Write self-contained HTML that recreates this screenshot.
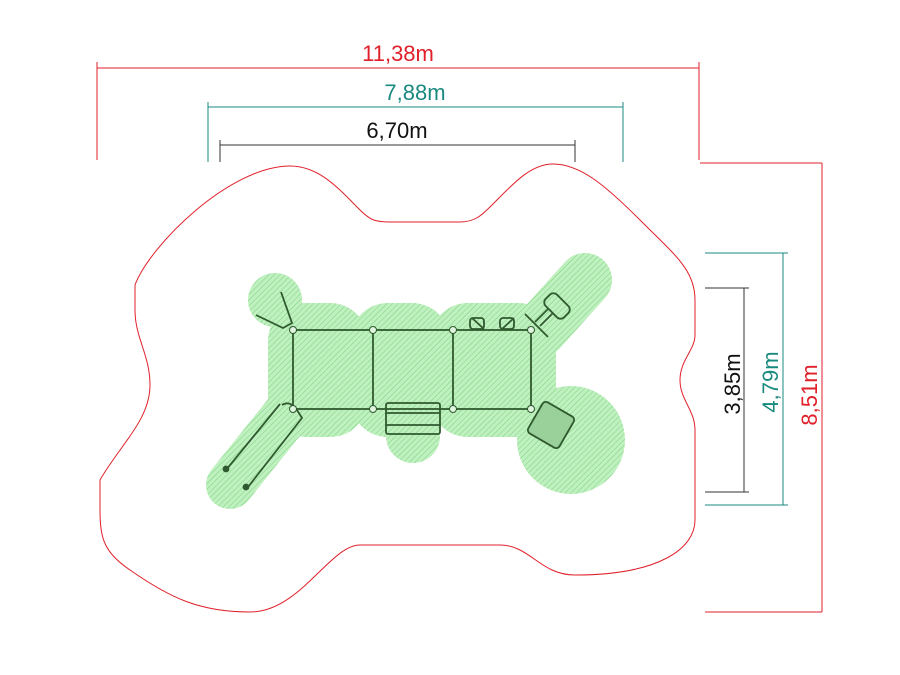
<!DOCTYPE html><html><head><style>body{margin:0;background:#fff}svg{display:block}</style></head><body>
<svg width="900" height="675" viewBox="0 0 900 675" xmlns="http://www.w3.org/2000/svg" font-family="Liberation Sans, sans-serif">
<defs><pattern id="h" width="4" height="4" patternUnits="userSpaceOnUse" patternTransform="rotate(45)"><rect width="4" height="4" fill="#bff0bf"/><line x1="0" y1="0" x2="0" y2="4" stroke="#7fd07f" stroke-width="1"/></pattern></defs>
<g stroke="#e0202a" stroke-width="1" fill="none">
<line x1="97" y1="68" x2="699" y2="68"/><line x1="97" y1="62" x2="97" y2="160"/><line x1="699" y1="62" x2="699" y2="160"/>
<line x1="700" y1="163" x2="822" y2="163"/><line x1="705" y1="612" x2="822" y2="612"/><line x1="822" y1="163" x2="822" y2="612"/>
<path d="M290,166 C320,166 340,190 360,210 C370,220 375,222 390,222 L460,222 C475,222 482,215 492,205 C512,185 530,164 553,164 C580,164 605,185 640,220 C675,255 695,270 695,300 L695,335 C695,350 680,360 680,380 C680,400 695,410 695,430 L695,520 C695,548 660,575 575,575 C540,575 530,545 500,545 L360,545 C330,545 300,612 250,612 C200,612 170,598 130,570 C105,553 100,540 100,510 L100,480 C120,445 150,420 150,385 C150,355 135,338 135,310 L135,285 C150,245 230,166 290,166 Z"/>
</g>
<g stroke="#1a8a80" stroke-width="1"><line x1="208" y1="107" x2="623" y2="107"/><line x1="208" y1="102" x2="208" y2="162"/><line x1="623" y1="102" x2="623" y2="162"/>
<line x1="783" y1="253" x2="783" y2="505"/><line x1="705" y1="253" x2="788" y2="253"/><line x1="705" y1="505" x2="788" y2="505"/></g>
<g stroke="#333" stroke-width="1"><line x1="220" y1="145" x2="575" y2="145"/><line x1="220" y1="140" x2="220" y2="162"/><line x1="575" y1="140" x2="575" y2="162"/>
<line x1="744" y1="288" x2="744" y2="492"/><line x1="705" y1="288" x2="749" y2="288"/><line x1="705" y1="492" x2="749" y2="492"/></g>
<g font-size="22" text-anchor="middle">
<text x="398" y="61" fill="#e0202a">11,38m</text>
<text x="415" y="100" fill="#1a8a80">7,88m</text>
<text x="397" y="138" fill="#111">6,70m</text>
<text transform="translate(817,395) rotate(-90)" fill="#e0202a">8,51m</text>
<text transform="translate(778,382) rotate(-90)" fill="#1a8a80">4,79m</text>
<text transform="translate(740,384) rotate(-90)" fill="#111">3,85m</text>
</g>
<g fill="url(#h)">
<circle cx="275" cy="300" r="27"/>
<circle cx="571" cy="440" r="54"/>
<line x1="230" y1="485" x2="290" y2="410" stroke="url(#h)" stroke-width="48" stroke-linecap="round"/>
<line x1="540" y1="330" x2="585" y2="280" stroke="url(#h)" stroke-width="54" stroke-linecap="round"/>
<rect x="386" y="395" width="54" height="68" rx="27"/>
<rect x="268" y="303" width="100" height="134" rx="38"/>
<rect x="350" y="303" width="100" height="134" rx="38"/>
<rect x="430" y="303" width="126" height="134" rx="38"/>
</g>
<g fill="none" stroke="#2f5a2f" stroke-width="1.8">
<rect x="293" y="330" width="238" height="79"/>
<line x1="373" y1="330" x2="373" y2="409"/><line x1="453" y1="330" x2="453" y2="409"/>
<polyline points="256,315 283,328 292,323 281,292"/>
<path d="M282,405 Q290,400 297,410 L302,418 L248,487 M280,404 L226,470"/>
<circle cx="226" cy="469" r="2.5" fill="#2f5a2f"/><circle cx="246" cy="487" r="2.5" fill="#2f5a2f"/>
<rect x="386" y="403" width="54" height="31" rx="2"/><line x1="386" y1="413" x2="440" y2="413"/><line x1="386" y1="425" x2="440" y2="425"/>
<rect x="470" y="318" width="14" height="11" rx="3"/><line x1="472" y1="318" x2="484" y2="329"/>
<rect x="500" y="318" width="14" height="11" rx="3"/><line x1="514" y1="318" x2="502" y2="329"/>
<line x1="525" y1="314" x2="548" y2="337"/><line x1="535" y1="322" x2="548" y2="309"/><line x1="540" y1="326" x2="553" y2="313"/>
<rect x="544" y="298" width="26" height="16" rx="5" transform="rotate(45 557 306)"/>
<rect x="533" y="407" width="36" height="36" rx="4" transform="rotate(30 551 425)" fill="#9ad09a"/>
</g>
<g fill="#dff5df" stroke="#2f5a2f" stroke-width="1"><circle cx="293" cy="330" r="3.5"/><circle cx="373" cy="330" r="3.5"/><circle cx="453" cy="330" r="3.5"/><circle cx="531" cy="330" r="3.5"/><circle cx="293" cy="409" r="3.5"/><circle cx="373" cy="409" r="3.5"/><circle cx="453" cy="409" r="3.5"/><circle cx="531" cy="409" r="3.5"/></g>
</svg></body></html>
